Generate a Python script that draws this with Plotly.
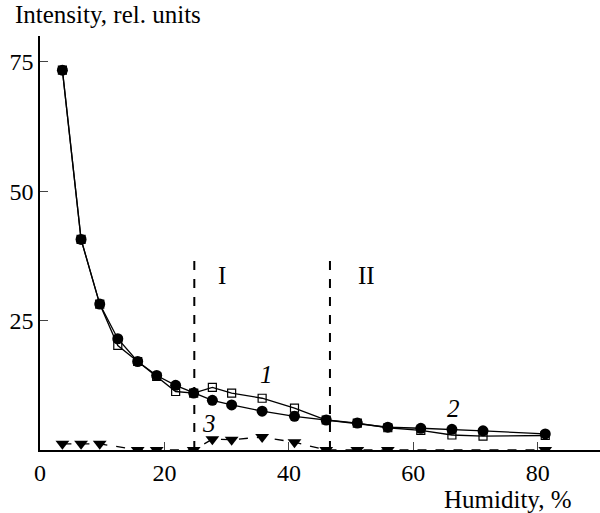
import plotly.graph_objects as go

# Humidity values (%) for each measured point
hum_12 = [3.6, 6.6, 9.6, 12.5, 15.7, 18.75, 21.8, 24.7, 27.7, 30.8, 35.7, 40.9, 46.0, 51.0, 55.9, 61.2, 66.2, 71.2, 81.2]
curve1 = [73.4, 40.7, 28.2, 20.2, 17.1, 14.2, 11.3, 11.0, 12.1, 11.0, 10.0, 8.1, 5.8, 5.2, 4.3, 3.8, 2.9, 2.7, 2.8]
curve2 = [73.4, 40.7, 28.2, 21.5, 17.1, 14.4, 12.5, 11.0, 9.6, 8.7, 7.5, 6.5, 5.8, 5.2, 4.4, 4.2, 4.0, 3.7, 3.1]
hum_3 = [3.6, 6.6, 9.6, 15.7, 18.75, 24.7, 27.7, 30.8, 35.7, 40.9, 46.0, 51.0, 55.9, 81.2]
curve3 = [1.2, 1.2, 1.2, 0, 0, 0, 2.1, 2.0, 2.5, 1.5, 0, 0, 0, 0]

region_bounds = [24.8, 46.6]
region_names = ["I", "II"]
region_label_x = [29.3, 52.4]
curve_labels = ["1", "2", "3"]
curve_label_x = [36.4, 66.5, 27.2]
curve_label_y = [14.6, 8.1, 5.2]

x_ticks = [0, 20, 40, 60, 80]
y_ticks = [25, 50, 75]

FONT = "Liberation Serif, Times New Roman, serif"
FS = 25

fig = go.Figure()
fig.add_trace(go.Scatter(x=hum_3, y=curve3, mode="lines+markers",
                         line=dict(color="black", width=1.3, dash="dash"),
                         marker=dict(symbol="triangle-down", size=12, color="black")))
fig.add_trace(go.Scatter(x=hum_12, y=curve1, mode="lines+markers",
                         line=dict(color="black", width=1.3),
                         marker=dict(symbol="square-open", size=8, color="black", line=dict(width=1.2))))
fig.add_trace(go.Scatter(x=hum_12, y=curve2, mode="lines+markers",
                         line=dict(color="black", width=1.3),
                         marker=dict(symbol="circle", size=11, color="black")))

for xb in region_bounds:
    fig.add_shape(type="line", x0=xb, x1=xb, y0=0, y1=36.7, xref="x", yref="y",
                  line=dict(color="black", width=2, dash="dash"))
for name, xl in zip(region_names, region_label_x):
    fig.add_annotation(x=xl, y=33.7, text=name, showarrow=False,
                       font=dict(family=FONT, size=FS, color="black"))
for name, xl, yl in zip(curve_labels, curve_label_x, curve_label_y):
    fig.add_annotation(x=xl, y=yl, text="<i>" + name + "</i>", showarrow=False,
                       font=dict(family=FONT, size=FS, color="black"))

fig.add_annotation(x=0, y=1, xref="paper", yref="paper", xanchor="left", yanchor="bottom",
                   xshift=-27, yshift=6, text="Intensity, rel. units", showarrow=False,
                   font=dict(family=FONT, size=FS, color="black"))
fig.add_annotation(x=1, y=0, xref="paper", yref="paper", xanchor="right", yanchor="top",
                   xshift=-26, yshift=-34, text="Humidity, %", showarrow=False,
                   font=dict(family=FONT, size=FS, color="black"))

fig.update_xaxes(range=[0, 90], tickvals=x_ticks, ticks="inside", ticklen=8, tickwidth=1.3,
                 showline=True, linecolor="black", linewidth=1.5, showgrid=False, zeroline=False,
                 tickfont=dict(family=FONT, size=24, color="black"))
fig.update_yaxes(range=[0, 80], tickvals=y_ticks, ticks="inside", ticklen=8, tickwidth=1.3,
                 showline=True, linecolor="black", linewidth=1.5, showgrid=False, zeroline=False,
                 tickfont=dict(family=FONT, size=24, color="black"))

fig.update_layout(width=600, height=513, margin=dict(l=40, r=0, t=36, b=63),
                  paper_bgcolor="white", plot_bgcolor="white", showlegend=False,
                  font=dict(family=FONT, size=FS, color="black"))

fig.write_html("out.html")
